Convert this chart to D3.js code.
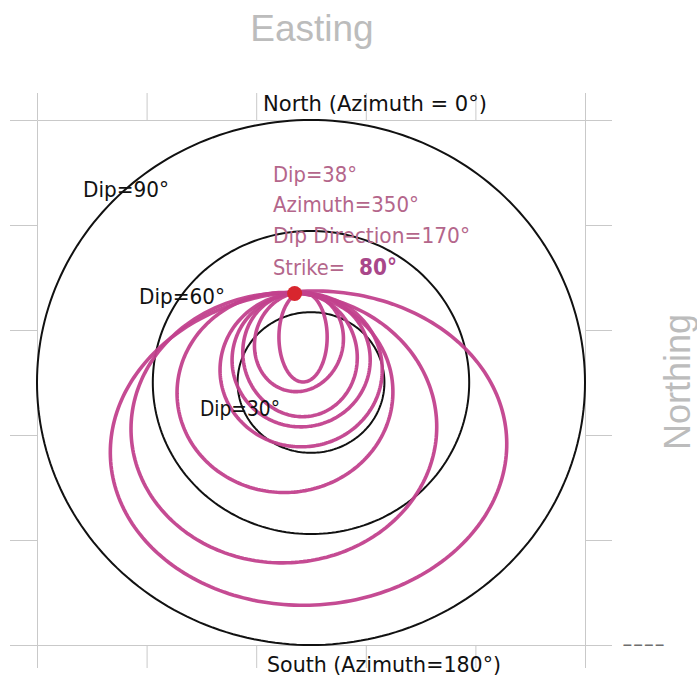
<!DOCTYPE html>
<html>
<head>
<meta charset="utf-8">
<script src="https://cdn.jsdelivr.net/npm/d3@7"></script>
<style>
  body { margin: 0; background: #fff; }
  svg { display: block; }
</style>
</head>
<body>
<svg id="chart" width="697" height="679"></svg>
<script>
// Dip rings of the stereonet (degrees) and their labels
const ringDips = [90, 60, 30];
const ringLabels = ["Dip=90°", "Dip=60°", "Dip=30°"];

// Frame tick positions, in projected units (-1..1)
const frameTicks = [-1, -0.6, -0.2, 0.2, 0.6, 1];

// Plotted orientation
const poleDip = 38;
const poleAzimuth = 350;
const infoLines = ["Dip=38°", "Azimuth=350°", "Dip Direction=170°", "Strike="];
const strikeValue = "80°";

// Traced loops: centre (east, north), semi-axes (east, north), tilt in degrees
const loopCx   = [-0.009, -0.099, -0.095, -0.036, -0.036, -0.040, -0.044, -0.029];
const loopCy   = [-0.250, -0.173, -0.038,  0.048,  0.086,  0.105,  0.154,  0.173];
const loopRx   = [ 0.724,  0.558,  0.394,  0.296,  0.252,  0.208,  0.161,  0.088];
const loopRy   = [ 0.598,  0.514,  0.381,  0.293,  0.255,  0.236,  0.190,  0.171];
const loopTilt = [ 4,      3,      5,      0,     -8,     10,    -12,      0   ];

const svg = d3.select("#chart");

const x = d3.scaleLinear().domain([-1, 1]).range([37, 585]);
const y = d3.scaleLinear().domain([-1, 1]).range([645, 120]);

// Stereographic (equal-angle) radius for a dip angle
const stereo = d => Math.tan((d / 2) * Math.PI / 180);

// Frame with outward ticks on all four sides
const gridColor = "#c9c9c9";
function styleAxis(g) {
  g.selectAll("text").remove();
  g.selectAll("path, line").attr("stroke", gridColor).attr("stroke-width", 1);
}
svg.append("g").attr("transform", `translate(0,${y(1)})`)
  .call(d3.axisTop(x).tickValues(frameTicks).tickSize(27).tickSizeOuter(0)).call(styleAxis);
svg.append("g").attr("transform", `translate(0,${y(-1)})`)
  .call(d3.axisBottom(x).tickValues(frameTicks).tickSize(23).tickSizeOuter(0)).call(styleAxis);
svg.append("g").attr("transform", `translate(${x(-1)},0)`)
  .call(d3.axisLeft(y).tickValues(frameTicks).tickSize(27).tickSizeOuter(0)).call(styleAxis);
svg.append("g").attr("transform", `translate(${x(1)},0)`)
  .call(d3.axisRight(y).tickValues(frameTicks).tickSize(27).tickSizeOuter(0)).call(styleAxis);

// Closed curve through scaled points
const line = d3.line().x(p => x(p[0])).y(p => y(p[1])).curve(d3.curveLinearClosed);
function ellipsePoints(cx, cy, rx, ry, tiltDeg) {
  const a = tiltDeg * Math.PI / 180, pts = [];
  for (let i = 0; i < 240; i++) {
    const t = i / 240 * 2 * Math.PI;
    const ex = rx * Math.cos(t), ey = ry * Math.sin(t);
    pts.push([cx + ex * Math.cos(a) - ey * Math.sin(a), cy + ex * Math.sin(a) + ey * Math.cos(a)]);
  }
  return pts;
}

// Dip rings
svg.append("g").selectAll("path").data(ringDips).join("path")
  .attr("d", d => line(ellipsePoints(0, 0, stereo(d), stereo(d), 0)))
  .attr("fill", "none").attr("stroke", "#111").attr("stroke-width", 2);

// Traced loops
const loops = d3.range(loopCx.length).map(i => ({
  cx: loopCx[i], cy: loopCy[i], rx: loopRx[i], ry: loopRy[i], tilt: loopTilt[i]
}));
svg.append("g").selectAll("path").data(loops).join("path")
  .attr("d", d => line(ellipsePoints(d.cx, d.cy, d.rx, d.ry, d.tilt)))
  .attr("fill", "none").attr("stroke", "#c2418d").attr("stroke-width", 3.6)
  .attr("stroke-opacity", 0.95);

// Plotted pole
const pr = stereo(poleDip), pa = poleAzimuth * Math.PI / 180;
svg.append("circle")
  .attr("cx", x(pr * Math.sin(pa))).attr("cy", y(pr * Math.cos(pa)))
  .attr("r", 7.5).attr("fill", "#d8262e");

// Axis titles
const titleFont = "'Liberation Sans', Arial, sans-serif";
svg.append("text").attr("x", 312).attr("y", 41).attr("text-anchor", "middle")
  .attr("font-family", titleFont).attr("font-size", 37).attr("fill", "#bcbcbc")
  .text("Easting");
svg.append("text").attr("transform", "translate(690,382) rotate(-90)")
  .attr("text-anchor", "middle")
  .attr("font-family", titleFont).attr("font-size", 36).attr("fill", "#bcbcbc")
  .text("Northing");
svg.append("text").attr("x", 622).attr("y", 651)
  .attr("font-family", titleFont).attr("font-size", 20).attr("fill", "#6e6e6e")
  .attr("textLength", 43).attr("lengthAdjust", "spacingAndGlyphs")
  .text("----");

// Compass labels and ring labels
const labelFont = "'DejaVu Sans', sans-serif";
function label(txt, lx, ly, len, size, color) {
  return svg.append("text").attr("x", lx).attr("y", ly)
    .attr("font-family", labelFont).attr("font-size", size).attr("fill", color)
    .attr("textLength", len).attr("lengthAdjust", "spacingAndGlyphs")
    .text(txt);
}
label("North (Azimuth = 0°)", 263, 111, 224, 21, "#111");
label("South (Azimuth=180°)", 267, 672, 234, 21, "#111");

const ringLabelPos = [[83, 197, 86], [139, 304, 86], [200, 416, 80]];
ringLabels.forEach((t, i) => {
  const p = ringLabelPos[i];
  label(t, p[0], p[1], p[2], 22, "#111");
});

// Orientation description
const infoColor = "#b4668b";
const infoPos = [[273, 182, 84], [273, 212, 146], [273, 243, 197], [273, 275, 72]];
infoLines.forEach((t, i) => {
  const p = infoPos[i];
  label(t, p[0], p[1], p[2], 22, infoColor);
});
label(strikeValue, 359, 275, 38, 23, "#a9478a").attr("font-weight", "bold");
</script>
</body>
</html>
